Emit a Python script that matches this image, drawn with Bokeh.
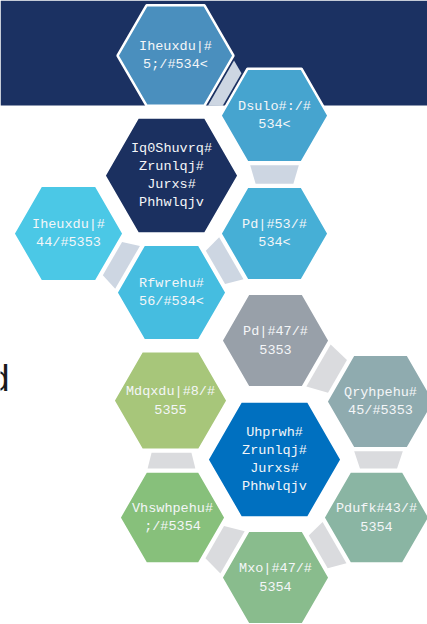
import math
from bokeh.plotting import figure
from bokeh.models import Range1d, ColumnDataSource
from bokeh.core.properties import value
from bokeh.embed import file_html
from bokeh.resources import INLINE

# ---- data ----
labels = [
    ["Iheuxdu|#", "5;/#534<"],
    ["Dsulo#:/#", "534<"],
    ["Iq0Shuvrq#", "Zrunlqj#", "Jurxs#", "Phhwlqjv"],
    ["Iheuxdu|#", "44/#5353"],
    ["Pd|#53/#", "534<"],
    ["Rfwrehu#", "56/#534<"],
    ["Pd|#47/#", "5353"],
    ["Mdqxdu|#8/#", "5355"],
    ["Uhprwh#", "Zrunlqj#", "Jurxs#", "Phhwlqjv"],
    ["Qryhpehu#", "45/#5353"],
    ["Vhswhpehu#", ";/#5354"],
    ["Pdufk#43/#", "5354"],
    ["Mxo|#47/#", "5354"],
]
hex_colors = ["#4A8FBE", "#46A4CF", "#1B3060", "#4BC8E6", "#46AFD6", "#45BDE0",
              "#98A0A9", "#A7C67A", "#0070C0", "#8FABAF", "#87C07B", "#8AB5A3", "#89BC8D"]
links = [(0, 1), (1, 4), (4, 5), (5, 3), (6, 9), (9, 11), (11, 12), (12, 10), (10, 7)]
link_colors = ["#CDD6E2"] * 4 + ["#DADBDE"] * 5

# ---- layout (pixel space) ----
cx = [175, 274, 171, 68, 274, 171, 275, 170, 274, 380, 172, 376, 275]
cy = [55, 115, 175, 233, 233, 292, 340, 400, 459, 401, 517, 517, 577]
rad = [58, 54, 67, 55, 54, 55, 54, 57, 67, 54, 53, 53, 54]

W, H = 427, 624
p = figure(width=W, height=H, output_backend="svg", toolbar_location=None,
           x_range=Range1d(0, W), y_range=Range1d(H, 0), min_border=0)
p.axis.visible = False
p.grid.visible = False
p.outline_line_color = None
p.background_fill_color = "white"
p.border_fill_color = "white"

# header band
p.quad(left=0, right=W, top=0, bottom=105, fill_color="#1B3162", line_color=None)

# big partially hidden letter
p.text(x=[9], y=[378], text=["d"], text_align="right", text_baseline="alphabetic",
       text_font=value("Liberation Sans"), text_font_size="36px", text_color="#1A1A1A")

# connectors
xs, ys = [], []
S3 = math.sqrt(3) / 2
for (a, b) in links:
    dx, dy = cx[b] - cx[a], cy[b] - cy[a]
    ang = math.degrees(math.atan2(dy, dx))
    snapped = round((ang - 30) / 60) * 60 + 30
    t = math.radians(snapped)
    ux, uy = math.cos(t), math.sin(t)
    vx, vy = -uy, ux
    along = dx * ux + dy * uy
    mid = (dx * vx + dy * vy) / 2
    s0 = rad[a] * S3 + 3
    s1 = along - rad[b] * S3 - 3
    L1 = rad[a] * 0.9
    L2 = rad[b] * 0.7
    pts = [(s0, mid - L1 / 2), (s0, mid + L1 / 2), (s1, mid + L2 / 2), (s1, mid - L2 / 2)]
    xs.append([cx[a] + s * ux + o * vx for s, o in pts])
    ys.append([cy[a] + s * uy + o * vy for s, o in pts])
p.patches(xs, ys, fill_color=link_colors, line_color=None)

# hexagons
hx, hy = [], []
for i in range(len(cx)):
    hx.append([cx[i] + rad[i] * math.cos(math.radians(k * 60)) for k in range(6)])
    hy.append([cy[i] + rad[i] * math.sin(math.radians(k * 60)) for k in range(6)])
p.patches(hx, hy, fill_color=hex_colors, line_color="white", line_width=2.5)

# labels
tx, ty, tt = [], [], []
for i, lines in enumerate(labels):
    n = len(lines)
    step = 18
    for j, s in enumerate(lines):
        tx.append(cx[i])
        ty.append(cy[i] + (j - (n - 1) / 2) * step)
        tt.append(s)
src = ColumnDataSource(dict(x=tx, y=ty, text=tt))
p.text(x="x", y="y", text="text", source=src, text_align="center", text_baseline="middle",
       text_font=value("Liberation Mono"), text_font_size="13.5px", text_color="#F4F6F8")

open("out.html", "w").write(file_html(p, INLINE))
